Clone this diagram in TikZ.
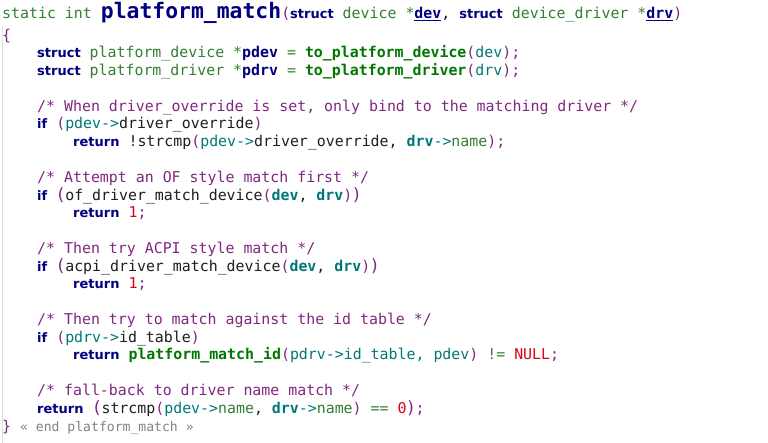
\documentclass[tikz,border=0pt]{standalone}
\usepackage{fontspec}
\setmonofont{DejaVu Sans Mono}
\newfontfamily\kwfont{DejaVu Sans}

\definecolor{kwnavy}{RGB}{0,0,128}
\definecolor{typegreen}{RGB}{50,128,50}
\definecolor{fngreen}{RGB}{0,120,0}
\definecolor{varteal}{RGB}{0,120,120}
\definecolor{cmpurple}{RGB}{128,40,128}
\definecolor{numred}{RGB}{220,0,20}
\definecolor{codedark}{RGB}{30,30,30}
\definecolor{endgray}{RGB}{130,130,130}

% token colours
\newcommand{\kwd}[1]{{\kwfont\bfseries\fontsize{13}{13}\selectfont\color{kwnavy}#1}}
\newcommand{\typ}[1]{{\color{typegreen}#1}}
\newcommand{\fcall}[1]{{\bfseries\color{fngreen}#1}}
\newcommand{\lvar}[1]{{\bfseries\color{kwnavy}#1}}
\newcommand{\prm}[1]{{\bfseries\color{varteal}#1}}
\newcommand{\lref}[1]{{\color{varteal}#1}}
\newcommand{\mbr}[1]{{\color{typegreen}#1}}
\newcommand{\pn}[1]{{\color{cmpurple}#1}}
\newcommand{\bpn}[1]{\makebox[9pt][c]{\fontsize{17}{17}\selectfont\color{cmpurple}#1}}
\newcommand{\cmt}[1]{{\color{cmpurple}#1}}
\newcommand{\nmb}[1]{{\color{numred}#1}}
\newcommand{\opr}[1]{{\color{typegreen}#1}}

\begin{document}
\begin{tikzpicture}[x=1pt, y=-1pt,
    codeline/.style={anchor=base west, inner sep=0pt, text=codedark,
      font=\ttfamily\fontsize{14.9}{17.8}\selectfont}]
  \fill[white] (0,0) rectangle (768,443);
  \useasboundingbox (0,0) rectangle (768,443);
  \draw[black!12] (2.5,25) -- (2.5,443);

  % Signature
  \node[codeline] (sig) at (2,19) {\typ{static int} {\bfseries\color{kwnavy}\fontsize{21.4}{22}\selectfont platform\_match}\pn{(}\kwd{struct} \typ{device} \opr{*}\lvar{\underline{dev}}, \kwd{struct} \typ{device\_driver} \opr{*}\lvar{\underline{drv}}\pn{)}};
  \node[codeline] (open) at (2,40.3) {\pn{\{}};

  % Locals
  \node[codeline] (decl-1) at (37,58) {\kwd{struct} \typ{platform\_device} \opr{*}\lvar{pdev} \opr{=} \fcall{to\_platform\_device}\pn{(}\lref{dev}\pn{);}};
  \node[codeline] (decl-2) at (37,75.8) {\kwd{struct} \typ{platform\_driver} \opr{*}\lvar{pdrv} \opr{=} \fcall{to\_platform\_driver}\pn{(}\lref{drv}\pn{);}};

  % driver_override
  \node[codeline] (cmt-1) at (37,111.3) {\cmt{/* When driver\_override is set, only bind to the matching driver */}};
  \node[codeline] (if-1) at (37,129.0) {\kwd{if} \pn{(}\lref{pdev->}driver\_override\pn{)}};
  \node[codeline] (ret-1) at (73,146.8) {\kwd{return} !strcmp\pn{(}\lref{pdev->}driver\_override, \prm{drv}\lref{->}\mbr{name}\pn{);}};

  % OF match
  \node[codeline] (cmt-2) at (37,182.3) {\cmt{/* Attempt an OF style match first */}};
  \node[codeline] (if-2) at (37,200.1) {\kwd{if} \bpn{(}of\_driver\_match\_device\pn{(}\prm{dev}, \prm{drv}\pn{)}\bpn{)}};
  \node[codeline] (ret-2) at (73,217.8) {\kwd{return} \nmb{1}\pn{;}};

  % ACPI match
  \node[codeline] (cmt-3) at (37,253.4) {\cmt{/* Then try ACPI style match */}};
  \node[codeline] (if-3) at (37,271.1) {\kwd{if} \bpn{(}acpi\_driver\_match\_device\pn{(}\prm{dev}, \prm{drv}\pn{)}\bpn{)}};
  \node[codeline] (ret-3) at (73,288.9) {\kwd{return} \nmb{1}\pn{;}};

  % id table
  \node[codeline] (cmt-4) at (37,324.4) {\cmt{/* Then try to match against the id table */}};
  \node[codeline] (if-4) at (37,342.2) {\kwd{if} \pn{(}\lref{pdrv->}id\_table\pn{)}};
  \node[codeline] (ret-4) at (73,359.9) {\kwd{return} \fcall{platform\_match\_id}\pn{(}\lref{pdrv->id\_table, pdev}\pn{)} \opr{!=} \nmb{NULL}\pn{;}};

  % name fall-back
  \node[codeline] (cmt-5) at (37,395.4) {\cmt{/* fall-back to driver name match */}};
  \node[codeline] (ret-5) at (37,413.2) {\kwd{return} \bpn{(}strcmp\pn{(}\lref{pdev->}\mbr{name}, \prm{drv}\lref{->}\mbr{name}\pn{)} \opr{==} \nmb{0}\bpn{)}\pn{;}};

  \node[codeline] (close) at (2,431) {\pn{\}} {\color{endgray}\fontsize{13.1}{14}\selectfont « end platform\_match »}};
\end{tikzpicture}
\end{document}
